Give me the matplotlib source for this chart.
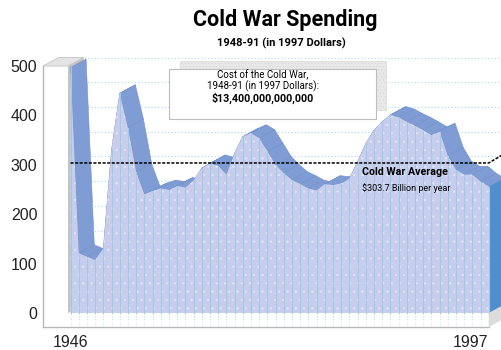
import matplotlib.pyplot as plt
from matplotlib.patches import Polygon, Rectangle
import numpy as np

plt.rcParams['hatch.color'] = '#e2e5f6'
plt.rcParams['hatch.linewidth'] = 0.4

# US defense spending, billions of 1997 dollars
years = list(range(1946, 1998))
spending = [497, 121, 114, 107, 131, 330, 445, 375, 285, 240,
            247, 252, 249, 257, 254, 268, 293, 303, 298, 280,
            323, 357, 364, 354, 327, 300, 283, 269, 261, 252,
            248, 261, 259, 262, 272, 306, 343, 370, 387, 401,
            396, 387, 379, 370, 360, 367, 318, 290, 280, 280,
            266, 256]
average = 303.7
yticks = [0, 100, 200, 300, 400, 500]
xticks = [1946, 1997]

title = 'Cold War Spending'
subtitle = '1948-91 (in 1997 Dollars)'
box_lines = ['Cost of the Cold War,', '1948-91 (in 1997 Dollars):', '$13,400,000,000,000']
avg_label = 'Cold War Average'
avg_note = '$303.7 Billion per year'

# depth of the 3D look (years, billions)
dx, dy = 1.9, 17

face = '#c9cdec'
ribbon = '#7f9cd4'
side = '#4f8fcf'
grid = '#a9dcef'
narrow = ['Roboto', 'DejaVu Sans']

x = np.array(years, dtype=float)
y = np.array(spending, dtype=float)
x0, x1 = x[0], x[-1]

fig = plt.figure(figsize=(5.02, 3.5), dpi=100)
ax = fig.add_axes([43 / 502, 23 / 350, 459 / 502, 277 / 350])
ax.set_xlim(1942.646, 1998.62)
ax.set_ylim(-28.34, 532.4)

# back wall gridlines every 50
for g in range(50, 501, 50):
    ax.plot([x0, 1999], [g + dy, g + dy], color=grid, lw=0.8,
            linestyle=(0, (1, 2)), zorder=1)

# left wall: top face and side face
wall_r = x0 - 0.3
ax.add_patch(Polygon([(1942.646, 500), (wall_r, 500), (wall_r + dx, 500 + dy),
                      (1942.646 + dx, 500 + dy)], closed=True,
                     facecolor='#e4e4e4', edgecolor='#c4c4c4', lw=0.6, zorder=2))
ax.add_patch(Polygon([(wall_r, 0), (wall_r, 500), (wall_r + dx, 500 + dy),
                      (wall_r + dx, dy)], closed=True,
                     facecolor='#c3c3c3', edgecolor='none', zorder=2))

# floor: vertical dotted lines in front strip and right side face
for yr in years:
    ax.plot([yr, yr], [-28, 0], color=grid, lw=0.6, linestyle=(0, (1, 2)), zorder=2)
ax.add_patch(Polygon([(x1, -28.34), (x1 + dx, -28.34 + dy), (x1 + dx, dy), (x1, 0)],
                     closed=True, facecolor='#dcdcdc', edgecolor='none', zorder=2))

# top surface of the area, one strip per year
for i in range(len(x) - 1):
    quad = [(x[i], y[i]), (x[i + 1], y[i + 1]),
            (x[i + 1] + dx, y[i + 1] + dy), (x[i] + dx, y[i] + dy)]
    ax.add_patch(Polygon(quad, closed=True, facecolor=ribbon,
                         edgecolor='#7190cc', lw=0.4, zorder=3))

# right end face
ax.add_patch(Polygon([(x1, 0), (x1, y[-1]), (x1 + dx, y[-1] + dy), (x1 + dx, dy)],
                     closed=True, facecolor=side, edgecolor='none', zorder=4))

# front face
ax.fill_between(x, 0, y, facecolor=face, hatch='..', zorder=4)
for xi, yi in zip(x, y):
    ax.plot([xi, xi], [0, yi], color='#9fcbea', lw=0.8, zorder=5)

# average line and leader to the right
ax.plot([x0, x1, x1 + dx], [average, average, average + dy * 1.1],
        color='black', lw=1.1, dashes=(2, 1), zorder=6)
ax.text(1981.5, average - 18, avg_label, family=narrow, fontweight='bold',
        fontsize=7.7, va='center', ha='left', zorder=7)
ax.text(1981.5, average - 50, avg_note, family=narrow,
        fontsize=6.5, va='center', ha='left', zorder=7)

# axes styling
for s in ['top', 'right']:
    ax.spines[s].set_visible(False)
ax.spines['left'].set_bounds(-28.34, 500)
ax.spines['bottom'].set_bounds(1942.646, x1)
for s in ['left', 'bottom']:
    ax.spines[s].set_color('#b8b8b8')
    ax.spines[s].set_linewidth(1)
ax.set_yticks(yticks)
ax.set_yticklabels([str(t) for t in yticks], family='Liberation Sans')
ax.set_xticks(xticks)
ax.set_xticklabels([str(t) for t in xticks], family='Liberation Sans')
ax.tick_params(axis='y', length=0, pad=4, labelsize=11.5, labelcolor='#222222')
ax.tick_params(axis='x', length=0, pad=5.5, labelsize=11.5, labelcolor='#222222')
ax.get_xticklabels()[-1].set_horizontalalignment('right')
ax.get_xticklabels()[-1].set_x(x1 + 1.6)
ax.patch.set_visible(False)

# titles
fig.text(285 / 502, 1 - 20 / 350, title, family=narrow, fontweight='bold',
         fontsize=15.5, ha='center', va='center')
fig.text(281 / 502, 1 - 43 / 350, subtitle, family=narrow, fontweight='bold',
         fontsize=8, ha='center', va='center')

# cost callout with shaded shadow
fig.add_artist(Rectangle((180 / 502, 1 - 110 / 350), 206 / 502, 49 / 350,
                         transform=fig.transFigure, facecolor='#e8e8e8',
                         edgecolor='#d8d8d8', hatch='.....', lw=0.5, zorder=8))
fig.add_artist(Rectangle((169 / 502, 1 - 119 / 350), 207 / 502, 50 / 350,
                         transform=fig.transFigure, facecolor='white',
                         edgecolor='#bdbdbd', lw=0.8, zorder=9))
fig.text(263 / 502, 1 - 75 / 350, box_lines[0], family=narrow, fontsize=7,
         ha='center', va='center', zorder=10)
fig.text(263 / 502, 1 - 86 / 350, box_lines[1], family=narrow, fontsize=7,
         ha='center', va='center', zorder=10)
fig.text(263 / 502, 1 - 98 / 350, box_lines[2], family=narrow, fontweight='bold',
         fontsize=7.7, ha='center', va='center', zorder=10)

fig.savefig('out.png', dpi=100)
